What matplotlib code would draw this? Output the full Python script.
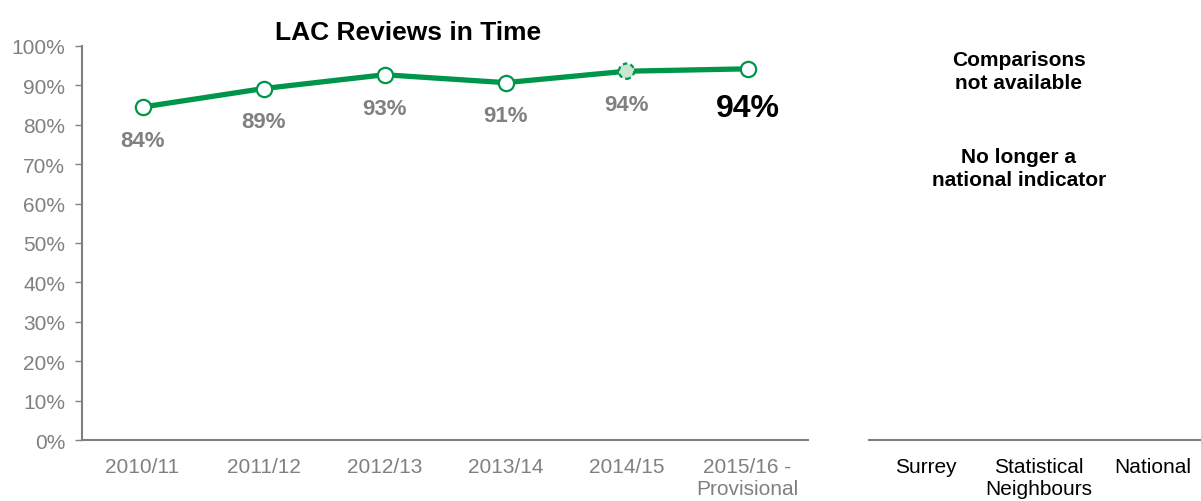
import matplotlib.pyplot as plt
import numpy as np

plt.rcParams['font.family'] = ['Liberation Sans', 'DejaVu Sans']

# Data
years = ['2010/11', '2011/12', '2012/13', '2013/14', '2014/15', '2015/16 -\nProvisional']
reviews = [84.5, 89.2, 92.7, 90.7, 93.6, 94.2]
labels = ['84%', '89%', '93%', '91%', '94%', '94%']
comparators = ['Surrey', 'Statistical\nNeighbours', 'National']

GREEN = '#00964A'
GREY = '#808080'

fig = plt.figure(figsize=(12.01, 5.02), dpi=100)
ax = fig.add_axes([0.0683, 0.1215, 0.6045, 0.7849])
ax2 = fig.add_axes([0.7236, 0.1215, 0.2831, 0.7849])

x = np.arange(len(years))
ax.plot(x, reviews, color=GREEN, lw=3.8, zorder=2)
ax.plot(x[[0, 1, 2, 3, 5]], np.array(reviews)[[0, 1, 2, 3, 5]], 'o', ms=11,
        mfc='white', mec=GREEN, mew=1.6, zorder=3)
# provisional-year source marker, dashed outline
ax.scatter([x[4]], [reviews[4]], s=121, facecolor='#c8e6d2', edgecolor=GREEN,
           linewidth=1.6, linestyle=(0, (2, 1.5)), zorder=3)

for i in range(len(years) - 1):
    ax.annotate(labels[i], (x[i], reviews[i]), xytext=(0, -24),
                textcoords='offset points', ha='center', va='center',
                fontsize=16, fontweight='bold', color=GREY)
ax.annotate(labels[-1], (x[-1], reviews[-1]), xytext=(0, -28),
            textcoords='offset points', ha='center', va='center',
            fontsize=23, fontweight='bold', color='black')

ax.set_xlim(-0.5, len(years) - 0.5)
ax.set_ylim(0, 100)
ax.set_yticks(np.arange(0, 101, 10))
ax.set_yticklabels([f'{v}%' for v in range(0, 101, 10)])
ax.set_xticks(x)
ax.set_xticklabels(years)
ax.tick_params(axis='y', colors=GREY, labelsize=15, length=5, width=1, pad=7)
ax.tick_params(axis='x', colors=GREY, labelsize=15, length=0, pad=12)
for s in ['top', 'right']:
    ax.spines[s].set_visible(False)
for s in ['left', 'bottom']:
    ax.spines[s].set_color(GREY)
    ax.spines[s].set_linewidth(1.5)
ax.set_title('LAC Reviews in Time', fontsize=19, fontweight='bold', pad=5,
             x=0.449)

# comparison panel
ax2.set_xlim(-0.5, len(comparators) - 0.5)
ax2.set_ylim(0, 100)
ax2.set_xticks(np.arange(len(comparators)))
ax2.set_xticklabels(comparators)
ax2.set_yticks([])
ax2.tick_params(axis='x', colors='black', labelsize=15, length=0, pad=12)
for s in ['top', 'right', 'left']:
    ax2.spines[s].set_visible(False)
ax2.spines['bottom'].set_color(GREY)
ax2.spines['bottom'].set_linewidth(1.5)
ax2.text(0.82, 93.7, 'Comparisons\nnot available', ha='center', va='center',
         fontsize=15, fontweight='bold', linespacing=1.25)
ax2.text(0.82, 69, 'No longer a\nnational indicator', ha='center', va='center',
         fontsize=15, fontweight='bold', linespacing=1.25)

fig.savefig('out.png', dpi=100)
